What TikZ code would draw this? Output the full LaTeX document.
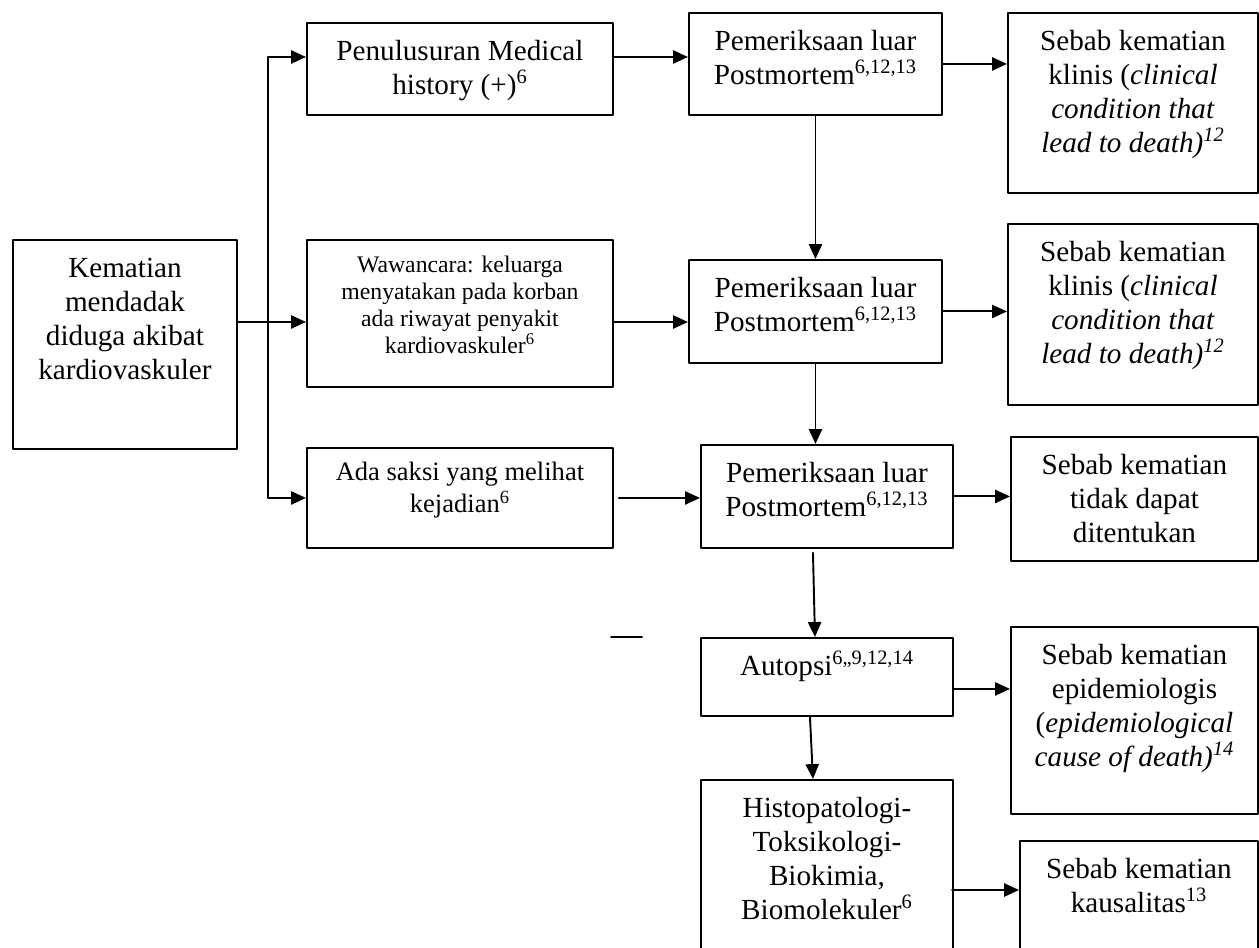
\documentclass[tikz,border=0pt]{standalone}
\usepackage{fontspec}
\setmainfont{Liberation Serif}
\usetikzlibrary{arrows.meta}
\newcommand{\kotak}[4][0.75]{\parbox[c][#3cm][t]{#2cm}{\centering\rule{0pt}{#1cm}#4}}

\begin{document}
\begin{tikzpicture}[line cap=round,line join=round,>={Triangle[length=8.5pt,width=7.5pt]},x=1.0cm,y=1.0cm,
  blok/.style={draw,line width=1.1pt,inner sep=0pt,anchor=north west,font=\fontsize{16.6}{19.3}\selectfont},
  panah/.style={->,line width=1.1pt}]
\clip(0,0) rectangle (25.18,18.94);
\node[blok] (kem) at (0.24,14.16) {\kotak{4.48}{4.18}{Kematian\\ mendadak\\ diduga akibat\\ kardiovaskuler}};
\node[blok] (pen) at (6.12,18.50) {\kotak{6.12}{1.84}{Penulusuran Medical\\ history (+)\textsuperscript{6}}};
\node[blok,font=\fontsize{13.5}{15.3}\selectfont] (waw) at (6.12,14.16) {\kotak[0.66]{6.12}{2.94}{Wawancara: keluarga\\ menyatakan pada korban\\ ada riwayat penyakit\\ kardiovaskuler\textsuperscript{6}}};
\node[blok,font=\fontsize{15.1}{18.2}\selectfont] (ada) at (6.12,10.00) {\kotak[0.66]{6.12}{2.00}{Ada saksi yang melihat\\ kejadian\textsuperscript{6}}};
\node[blok] (pmA) at (13.76,18.70) {\kotak{5.06}{2.04}{Pemeriksaan luar\\ Postmortem\textsuperscript{6,12,13}}};
\node[blok] (pmB) at (13.76,13.76) {\kotak{5.06}{2.06}{Pemeriksaan luar\\ Postmortem\textsuperscript{6,12,13}}};
\node[blok] (pmC) at (14.00,10.06) {\kotak{5.04}{2.06}{Pemeriksaan luar\\ Postmortem\textsuperscript{6,12,13}}};
\node[blok] (aut) at (14.00,6.20) {\kotak{5.04}{1.56}{Autopsi\textsuperscript{6,,9,12,14}}};
\node[blok] (his) at (14.00,3.36) {\kotak{5.04}{4.00}{Histopatologi-\\ Toksikologi-\\ Biokimia,\\ Biomolekuler\textsuperscript{6}}};
\node[blok] (sbA) at (20.14,18.70) {\kotak{5.00}{3.60}{Sebab kematian\\ klinis (\textit{clinical}\\ \textit{condition that}\\ \textit{lead to death)\textsuperscript{12}}}};
\node[blok] (sbB) at (20.14,14.48) {\kotak{5.00}{3.62}{Sebab kematian\\ klinis (\textit{clinical}\\ \textit{condition that}\\ \textit{lead to death)\textsuperscript{12}}}};
\node[blok] (sbC) at (20.20,10.22) {\kotak{4.94}{2.48}{Sebab kematian\\ tidak dapat\\ ditentukan}};
\node[blok] (sbD) at (20.20,6.42) {\kotak{4.94}{3.74}{Sebab kematian\\ epidemiologis\\ (\textit{epidemiological}\\ \textit{cause of death)\textsuperscript{14}}}};
\node[blok] (sbE) at (20.38,2.14) {\kotak{4.76}{3.00}{Sebab kematian\\ kausalitas\textsuperscript{13}}};

% cabang dari kotak kiri
\coordinate (bt) at (5.36,17.80);
\coordinate (bm) at (5.36,12.50);
\draw[line width=1.1pt] (bt) -- (bt |- ada.west);
\draw[panah] (bt) -- (bt -| pen.west);
\draw[panah] (kem.east |- bm) -- (bm -| waw.west);
\draw[panah] (bt |- ada.west) -- (ada.west);

% ke pemeriksaan luar
\draw[panah] (bt -| pen.east) -- (bt -| pmA.west);
\draw[panah] (bm -| waw.east) -- (bm -| pmB.west);
\draw[panah] ([xshift=0.1cm]ada.east) -- (ada.east -| pmC.west);
\draw[panah] (pmA.south) -- (pmB.north);
\draw[panah] (pmB.south) -- (pmB.south |- pmC.north);
\draw[panah] ([xshift=-0.28cm,yshift=-0.08cm]pmC.south) -- ([xshift=-0.24cm]aut.north);
\draw[panah] ([xshift=-0.34cm]aut.south) -- ([xshift=-0.28cm]his.north);

% ke sebab kematian
\draw[panah] (pmA.east) -- (pmA.east -| sbA.west);
\draw[panah] (pmB.east) -- (pmB.east -| sbB.west);
\draw[panah] (pmC.east) -- (pmC.east -| sbC.west);
\coordinate (ad) at ([yshift=-0.24cm]aut.east);
\draw[panah] (ad) -- (ad -| sbD.west);
\coordinate (hd) at (19.04,1.14);
\draw[panah] (hd) -- (hd -| sbE.west);

\draw[line width=1.1pt] (12.22,6.20) -- (12.84,6.20);
\end{tikzpicture}
\end{document}
